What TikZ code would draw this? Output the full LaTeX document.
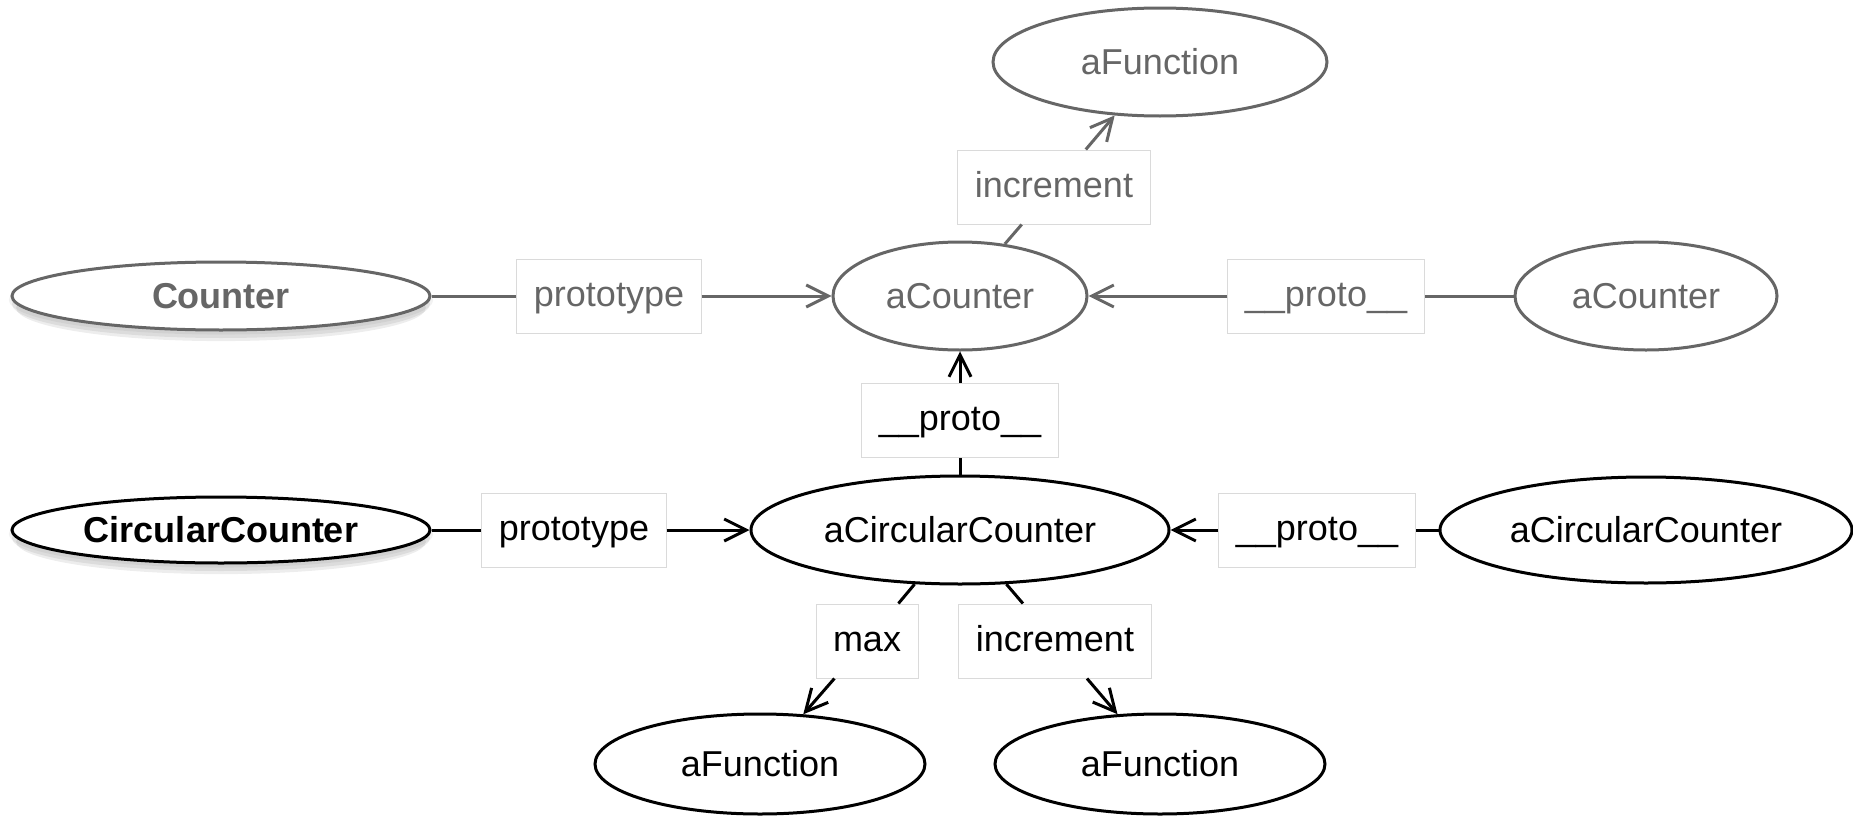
\documentclass[tikz,border=0pt]{standalone}
\usepackage{fontspec}
\setmainfont{Liberation Sans}
\usetikzlibrary{shapes.geometric,arrows.meta,shadows}
\definecolor{fg}{HTML}{666666}
\definecolor{boxline}{HTML}{DADADA}
\begin{document}
\begin{tikzpicture}[x=0.5pt,y=-0.5pt,
  txt/.style={font=\fontsize{18}{22}\selectfont},
  obj/.style={ellipse, draw, line width=1.5pt, fill=white, inner sep=0pt, txt},
  lbl/.style={rectangle, draw=boxline, line width=0.5pt, fill=white, inner xsep=8.5pt, inner ysep=0pt, minimum height=37pt, text height=13pt, text depth=3pt, txt},
  dim/.style={draw=fg, text=fg},
  dimlbl/.style={text=fg},
  conn/.style={line width=1.5pt},
  arr/.style={conn, -{Straight Barb[length=11pt,width=11pt]}},
  softshadow/.style={
    general shadow={shadow yshift=-2pt, shadow scale=1.015, fill=black, opacity=0.05},
    general shadow={shadow yshift=-4pt, shadow scale=1.0, fill=black, opacity=0.07},
    general shadow={shadow yshift=-6pt, shadow scale=0.98, fill=black, opacity=0.07}},
  classfont/.style={font=\fontsize{18}{22}\selectfont\bfseries}
]
\useasboundingbox (0,0) rectangle (1853,819);

% ellipses
\node[obj, dim, minimum width=167pt, minimum height=54pt] (fTop) at (1160,62) {aFunction};
\node[obj, dim, classfont, softshadow, minimum width=209pt, minimum height=34pt] (Counter) at (221,296) {Counter};
\node[obj, dim, minimum width=127pt, minimum height=54pt] (aCounter) at (960,296) {aCounter};
\node[obj, dim, minimum width=131pt, minimum height=54pt] (aCounterR) at (1646,296) {aCounter};
\node[obj, classfont, softshadow, minimum width=209pt, minimum height=33pt] (CircularCounter) at (221,530) {CircularCounter};
\node[obj, minimum width=209pt, minimum height=54pt] (aCC) at (960,530) {aCircularCounter};
\node[obj, minimum width=206pt, minimum height=53pt] (aCCR) at (1646,530) {aCircularCounter};
\node[obj, minimum width=165pt, minimum height=50pt] (fL) at (760,764) {aFunction};
\node[obj, minimum width=165pt, minimum height=50pt] (fR) at (1160,764) {aFunction};

% label boxes
\node[lbl, dimlbl] (pTop) at (609,296) {prototype};
\node[lbl, dimlbl] (protoTR) at (1326,296) {\_\_proto\_\_};
\node[lbl, dimlbl] (incTop) at (1054,187) {increment};
\node[lbl] (protoMid) at (960,420) {\_\_proto\_\_};
\node[lbl] (pLow) at (574,530) {prototype};
\node[lbl] (protoR) at (1317,530) {\_\_proto\_\_};
\node[lbl] (max) at (867,641) {max};
\node[lbl] (incLow) at (1055,641) {increment};

% connectors
\draw[conn, fg] (Counter) -- (pTop);
\draw[arr, fg] (pTop) -- (aCounter);
\draw[conn, fg] (aCounterR) -- (protoTR);
\draw[arr, fg] (protoTR) -- (aCounter);
\draw[conn, fg] (aCounter) -- (incTop);
\draw[arr, fg] (incTop) -- (fTop);
\draw[conn] (aCC) -- (protoMid);
\draw[arr] (protoMid) -- (aCounter);
\draw[conn] (CircularCounter) -- (pLow);
\draw[arr] (pLow) -- (aCC);
\draw[conn] (aCCR) -- (protoR);
\draw[arr] (protoR) -- (aCC);
\draw[conn] (aCC) -- (max);
\draw[arr] (max) -- (fL);
\draw[conn] (aCC) -- (incLow);
\draw[arr] (incLow) -- (fR);
\end{tikzpicture}
\end{document}
